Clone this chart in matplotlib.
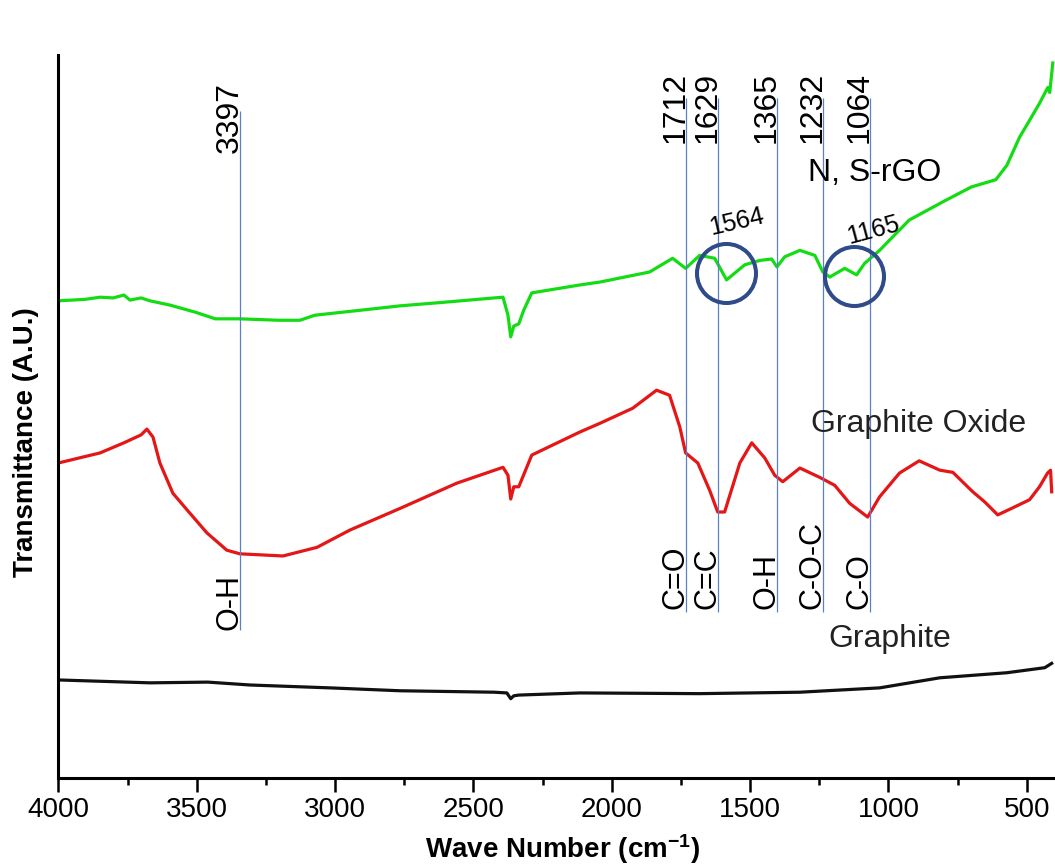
import matplotlib
matplotlib.use("Agg")
import matplotlib.pyplot as plt
from matplotlib.ticker import MultipleLocator

plt.rcParams['font.family'] = ['Liberation Sans', 'DejaVu Sans']
plt.rcParams['mathtext.fontset'] = 'custom'
plt.rcParams['mathtext.rm'] = 'Liberation Sans'
plt.rcParams['mathtext.bf'] = 'Liberation Sans:bold'

# FTIR spectra: wave number (cm-1) and transmittance (A.U.)
rgo_wn = [4000, 3904, 3849, 3802, 3763, 3741, 3701, 3669, 3596, 3503,
          3433, 3344, 3203, 3127, 3073, 2906, 2765, 2606, 2425, 2393,
          2375, 2365, 2354, 2336, 2318, 2289, 2115, 2043, 1863, 1780,
          1733, 1682, 1628, 1585, 1519, 1465, 1422, 1403, 1375, 1320,
          1266, 1237, 1212, 1158, 1115, 1086, 1032, 925, 800, 700,
          612, 572, 526, 489, 454, 424, 417, 406]
rgo_t = [66.2, 66.4, 66.7, 66.6, 67.0, 66.3, 66.6, 66.2, 65.6, 64.6,
         63.7, 63.7, 63.5, 63.5, 64.2, 64.9, 65.5, 66.0, 66.6, 66.7,
         64.2, 61.2, 62.7, 63.0, 64.9, 67.3, 68.4, 68.8, 70.2, 72.1,
         70.7, 72.5, 72.1, 69.1, 71.2, 71.8, 72.0, 70.9, 72.3, 73.2,
         72.5, 70.2, 69.5, 70.7, 69.8, 71.4, 73.2, 77.4, 80.0, 82.0,
         83.0, 85.0, 88.9, 91.3, 93.6, 95.8, 95.1, 99.2]

go_wn = [4000, 3849, 3763, 3701, 3680, 3658, 3633, 3586, 3535, 3463,
         3391, 3344, 3188, 3065, 2946, 2765, 2560, 2393, 2375, 2365,
         2354, 2336, 2289, 2115, 2043, 1924, 1838, 1791, 1754, 1733,
         1689, 1646, 1617, 1592, 1537, 1494, 1447, 1411, 1382, 1320,
         1248, 1194, 1140, 1075, 1032, 960, 889, 814, 767, 695,
         652, 605, 555, 490, 454, 425, 414, 410]
go_t = [43.7, 45.1, 46.5, 47.6, 48.4, 47.3, 43.7, 39.5, 37.2, 34.0,
        31.6, 31.1, 30.8, 32.0, 34.4, 37.4, 40.9, 43.1, 42.0, 38.7,
        40.4, 40.4, 44.8, 48.0, 49.2, 51.3, 53.8, 53.1, 48.7, 45.1,
        43.7, 39.9, 36.9, 36.9, 43.7, 46.5, 44.4, 42.0, 41.1, 43.0,
        41.7, 40.6, 38.1, 36.2, 39.0, 42.3, 44.0, 42.7, 42.4, 39.7,
        38.3, 36.5, 37.4, 38.6, 40.4, 42.3, 42.7, 39.7]

graphite_wn = [4000, 3669, 3460, 3307, 3018, 2765, 2425, 2379, 2365, 2354,
               2336, 2115, 1682, 1320, 1032, 814, 572, 435, 410]
graphite_t = [13.6, 13.2, 13.3, 12.9, 12.5, 12.1, 11.9, 11.8, 11.0, 11.4,
              11.5, 11.8, 11.7, 11.9, 12.5, 13.9, 14.6, 15.3, 15.9]

# band markers
band_pos = [3344, 1733, 1617, 1403, 1237, 1067]
band_values = ["3397", "1712", "1629", "1365", "1232", "1064"]
band_groups = ["O-H", "C=O", "C=C", "O-H", "C-O-C", "C-O"]

# circled peaks of N, S-rGO
circled_wn = [1586, 1123]
circled_t = [70.1, 69.6]
circled_labels = ["1564", "1165"]

fig = plt.figure(figsize=(10.55, 8.65), dpi=100)
ax = fig.add_axes([0.0553, 0.1006, 0.9447, 0.8358])

ax.plot(rgo_wn, rgo_t, color='#14dc14', lw=2.3)
ax.plot(go_wn, go_t, color='#e41616', lw=2.3)
ax.plot(graphite_wn, graphite_t, color='#111111', lw=2.3)

line_col = '#5b80c8'
for i, (pos, val, grp) in enumerate(zip(band_pos, band_values, band_groups)):
    if i == 0:
        y0, y1, ytop, ybot = 20.5, 92.6, 86.7, 20.5
    else:
        y0, y1, ytop, ybot = 23.0, 94.3, 88.1, 23.5
    ax.vlines(pos, y0, y1, color=line_col, lw=0.9)
    ax.annotate(val, (pos, ytop), xytext=(3.5, 0), textcoords='offset points',
                rotation=90, ha='right', va='bottom', fontsize=23)
    ax.annotate(grp, (pos, ybot), xytext=(3.5, 0), textcoords='offset points',
                rotation=90, ha='right', va='bottom', fontsize=22)

ax.plot(circled_wn, circled_t, 'o', ms=42.5, mfc='none', mec='#2f4b8a', mew=2.9)
ax.text(1547, 77.2, circled_labels[0], rotation=13, rotation_mode='anchor',
        ha='center', va='center', fontsize=18)
ax.text(1055, 76.0, circled_labels[1], rotation=15, rotation_mode='anchor',
        ha='center', va='center', fontsize=18)

ax.text(1051, 82.8, "N, S-rGO", ha='center', va='baseline', fontsize=23)
ax.text(891, 48.0, "Graphite Oxide", ha='center', va='baseline', fontsize=23, color='#222222')
ax.text(995, 18.2, "Graphite", ha='center', va='baseline', fontsize=23, color='#222222')

ax.set_xlim(4000, 398)
ax.set_ylim(0, 100.3)
ax.xaxis.set_major_locator(MultipleLocator(500))
ax.xaxis.set_minor_locator(MultipleLocator(250))
ax.tick_params(axis='x', which='major', length=10, width=1.8, labelsize=20, pad=3.5)
ax.tick_params(axis='x', which='minor', length=5, width=1.8)
ax.set_yticks([])
for side in ['top', 'right']:
    ax.spines[side].set_visible(False)
for side in ['left', 'bottom']:
    ax.spines[side].set_linewidth(2.2)

fig.text(0.0246, 0.489, "Transmittance (A.U.)", rotation=90, ha='center', va='center',
         fontsize=20, fontweight='bold')
fig.text(0.533, 0.008, r"Wave Number (cm$\mathbf{^{-1}}$)", ha='center', va='baseline',
         fontsize=20, fontweight='bold')

fig.savefig("out.png", dpi=100)
